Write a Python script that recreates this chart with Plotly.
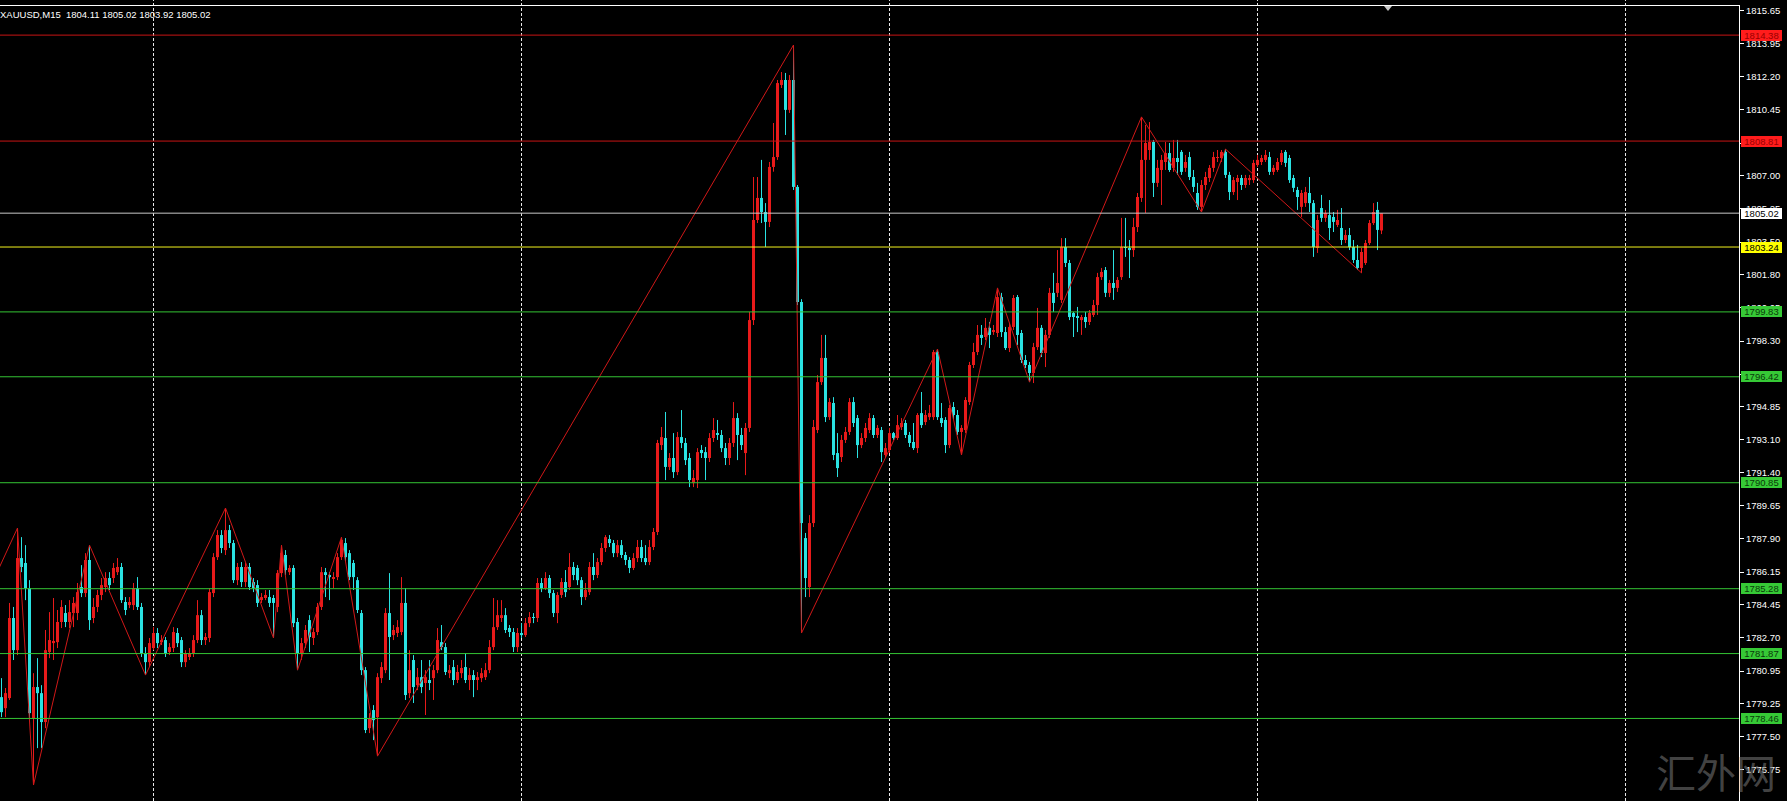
import plotly.graph_objects as go

# XAUUSD M15 candles (index 0 = leftmost bar)
opens = [
    1779.58, 1779.00, 1779.53, 1783.74, 1782.05, 1786.89, 1786.63, 1785.31, 1778.48, 1780.11,
    1779.79, 1778.27, 1781.95, 1782.42, 1782.47, 1783.53, 1784.00, 1783.53, 1784.00, 1784.00,
    1785.37, 1785.05, 1786.79, 1783.74, 1784.32, 1784.95, 1785.37, 1785.84, 1785.84, 1786.15,
    1786.42, 1784.58, 1784.42, 1784.42, 1785.31, 1784.32, 1781.90, 1781.42, 1782.16, 1782.95,
    1782.47, 1782.58, 1781.95, 1782.16, 1782.95, 1782.58, 1781.42, 1781.69, 1781.90, 1782.58,
    1783.89, 1782.58, 1782.69, 1785.05, 1786.94, 1788.10, 1787.31, 1788.36, 1787.68, 1785.73,
    1786.42, 1785.63, 1786.42, 1785.63, 1785.47, 1784.68, 1784.79, 1784.84, 1784.79, 1784.32,
    1786.10, 1787.05, 1786.15, 1786.37, 1783.53, 1781.90, 1782.42, 1783.63, 1782.69, 1783.00,
    1784.32, 1786.15, 1786.00, 1785.84, 1785.89, 1786.94, 1787.68, 1787.15, 1786.63, 1785.73,
    1784.00, 1781.00, 1777.95, 1778.90, 1778.53, 1780.58, 1781.00, 1784.00, 1782.84, 1782.95,
    1783.00, 1784.53, 1779.79, 1781.53, 1780.21, 1780.63, 1780.32, 1780.48, 1780.58, 1781.00,
    1782.47, 1782.21, 1780.84, 1781.16, 1780.48, 1780.84, 1781.16, 1780.48, 1780.74, 1780.48,
    1780.58, 1780.63, 1781.00, 1782.21, 1783.26, 1783.74, 1783.89, 1783.21, 1783.00, 1782.21,
    1782.95, 1782.84, 1783.47, 1783.79, 1783.74, 1785.58, 1785.31, 1785.84, 1785.05, 1784.00,
    1784.95, 1785.63, 1785.37, 1786.42, 1786.37, 1785.73, 1784.84, 1785.10, 1786.42, 1786.00,
    1786.68, 1787.42, 1787.89, 1787.68, 1787.15, 1787.57, 1787.05, 1786.79, 1786.37, 1786.89,
    1787.47, 1786.89, 1786.68, 1787.47, 1788.26, 1792.83, 1793.20, 1791.68, 1792.15, 1791.41,
    1793.25, 1792.94, 1792.15, 1790.83, 1790.99, 1792.57, 1792.46, 1792.15, 1793.20, 1793.46,
    1793.36, 1792.67, 1792.15, 1792.94, 1794.25, 1793.36, 1792.41, 1793.73, 1799.40, 1804.66,
    1805.82, 1805.08, 1804.56, 1807.45, 1807.97, 1811.76, 1812.02, 1810.45, 1812.02, 1806.40,
    1800.35, 1787.94, 1785.37, 1788.73, 1793.62, 1796.14, 1797.41, 1794.30, 1795.04, 1792.41,
    1792.20, 1793.10, 1793.52, 1795.09, 1794.25, 1792.83, 1793.20, 1793.62, 1794.25, 1793.36,
    1793.62, 1792.31, 1792.57, 1793.46, 1793.20, 1793.78, 1793.99, 1793.36, 1792.99, 1792.67,
    1794.51, 1794.04, 1794.30, 1794.30, 1797.72, 1794.25, 1794.15, 1792.83, 1794.83, 1794.41,
    1793.52, 1793.62, 1795.09, 1797.04, 1797.72, 1798.62, 1798.51, 1798.99, 1798.77, 1798.72,
    1800.61, 1798.77, 1797.93, 1799.04, 1800.61, 1798.72, 1797.30, 1797.04, 1796.62, 1797.98,
    1798.99, 1797.67, 1798.62, 1800.83, 1800.83, 1800.46, 1803.24, 1802.40, 1799.77, 1799.61,
    1799.40, 1799.56, 1799.30, 1799.67, 1800.19, 1801.66, 1802.03, 1800.83, 1801.35, 1801.09,
    1801.66, 1803.24, 1803.19, 1803.08, 1804.29, 1805.82, 1807.82, 1808.34, 1808.76, 1806.61,
    1807.29, 1807.71, 1808.18, 1807.40, 1807.92, 1808.24, 1807.40, 1807.97, 1806.92, 1806.08,
    1805.35, 1806.50, 1806.87, 1807.40, 1807.92, 1807.92, 1808.24, 1807.03, 1806.13, 1806.66,
    1806.87, 1806.50, 1806.76, 1806.76, 1807.55, 1807.71, 1807.82, 1807.97, 1807.19, 1807.29,
    1807.71, 1808.24, 1807.92, 1806.87, 1806.24, 1805.35, 1805.55, 1806.08, 1805.55, 1803.19,
    1805.29, 1804.77, 1804.92, 1804.82, 1804.40, 1804.24, 1803.61, 1803.87, 1803.24, 1802.56,
    1802.14, 1802.40, 1803.45, 1804.50, 1805.19, 1804.11,
]
highs = [
    1780.58, 1780.06, 1784.53, 1784.32, 1788.47, 1787.99, 1787.57, 1785.73, 1780.84, 1781.63,
    1780.21, 1783.11, 1784.05, 1784.79, 1784.16, 1784.68, 1784.42, 1784.68, 1784.84, 1785.58,
    1786.52, 1787.15, 1787.57, 1784.79, 1785.21, 1785.84, 1786.15, 1786.15, 1786.63, 1786.89,
    1786.63, 1784.84, 1784.84, 1785.58, 1785.89, 1784.53, 1782.21, 1782.69, 1783.26, 1783.21,
    1782.84, 1782.74, 1782.42, 1783.26, 1783.21, 1782.74, 1782.05, 1782.16, 1782.84, 1784.68,
    1784.16, 1782.95, 1785.31, 1787.15, 1788.36, 1788.36, 1789.52, 1788.63, 1787.84, 1786.63,
    1786.68, 1786.63, 1786.63, 1785.84, 1785.73, 1785.05, 1785.21, 1785.21, 1784.95, 1786.26,
    1787.57, 1787.31, 1786.52, 1786.52, 1783.74, 1782.69, 1783.37, 1783.89, 1783.21, 1784.53,
    1786.42, 1786.37, 1786.15, 1786.15, 1787.15, 1787.99, 1787.94, 1787.31, 1786.79, 1785.89,
    1784.16, 1781.16, 1778.74, 1779.16, 1780.84, 1781.42, 1784.26, 1786.10, 1783.37, 1783.63,
    1785.89, 1785.31, 1782.05, 1781.79, 1781.11, 1781.53, 1781.00, 1781.53, 1781.27, 1783.21,
    1783.37, 1782.42, 1781.27, 1781.53, 1781.27, 1781.53, 1781.90, 1781.11, 1781.00, 1780.90,
    1781.11, 1781.37, 1782.58, 1784.79, 1784.68, 1784.68, 1784.26, 1783.37, 1783.21, 1783.21,
    1783.47, 1783.74, 1784.05, 1784.00, 1785.84, 1785.84, 1786.15, 1786.00, 1785.21, 1785.10,
    1785.84, 1786.26, 1787.15, 1786.68, 1786.52, 1785.89, 1785.58, 1786.68, 1787.15, 1786.89,
    1787.68, 1788.10, 1788.10, 1787.84, 1787.84, 1787.84, 1787.21, 1786.94, 1787.15, 1787.84,
    1787.84, 1787.57, 1787.84, 1788.47, 1793.10, 1793.78, 1794.57, 1792.41, 1793.46, 1793.52,
    1794.67, 1793.20, 1792.41, 1791.52, 1792.67, 1792.83, 1792.73, 1793.46, 1794.25, 1794.15,
    1793.62, 1792.94, 1793.20, 1795.09, 1794.51, 1793.73, 1793.99, 1799.83, 1806.92, 1806.92,
    1807.82, 1805.55, 1807.71, 1809.76, 1812.02, 1812.44, 1812.39, 1812.28, 1813.86, 1806.50,
    1800.50, 1788.21, 1789.15, 1794.15, 1796.51, 1798.62, 1798.62, 1795.30, 1795.35, 1793.46,
    1793.36, 1793.78, 1795.30, 1795.35, 1794.41, 1793.46, 1793.99, 1794.51, 1794.41, 1793.88,
    1793.78, 1792.94, 1793.73, 1793.52, 1794.41, 1794.25, 1794.15, 1793.52, 1793.99, 1794.51,
    1795.62, 1794.67, 1794.94, 1797.83, 1797.88, 1795.04, 1794.30, 1794.94, 1795.09, 1794.67,
    1793.88, 1795.35, 1797.20, 1798.20, 1799.14, 1799.14, 1799.51, 1799.30, 1799.14, 1801.09,
    1800.83, 1799.04, 1799.25, 1800.72, 1800.72, 1798.88, 1797.56, 1797.20, 1798.20, 1800.04,
    1799.14, 1798.88, 1801.09, 1801.88, 1803.08, 1803.71, 1803.71, 1802.56, 1799.83, 1800.09,
    1799.67, 1799.83, 1799.93, 1800.46, 1801.88, 1802.14, 1802.19, 1801.51, 1803.08, 1801.66,
    1804.77, 1804.77, 1803.61, 1804.77, 1806.08, 1810.08, 1809.66, 1809.81, 1808.87, 1807.82,
    1808.08, 1808.76, 1808.71, 1808.87, 1808.87, 1808.34, 1808.08, 1808.24, 1807.29, 1806.61,
    1806.76, 1807.19, 1807.55, 1808.24, 1808.34, 1808.34, 1808.39, 1807.19, 1806.92, 1807.03,
    1807.03, 1807.03, 1807.03, 1807.82, 1808.08, 1808.08, 1808.34, 1808.24, 1807.55, 1807.92,
    1808.34, 1808.34, 1808.08, 1807.03, 1806.40, 1806.24, 1806.40, 1806.92, 1805.71, 1804.92,
    1805.98, 1805.19, 1805.71, 1805.08, 1805.19, 1805.29, 1804.14, 1804.24, 1803.61, 1803.35,
    1803.19, 1803.61, 1804.66, 1805.55, 1805.61, 1805.02,
]
lows = [
    1778.53, 1778.53, 1779.43, 1781.53, 1781.79, 1786.15, 1784.68, 1778.48, 1774.96, 1776.90,
    1776.90, 1777.95, 1781.63, 1781.53, 1782.16, 1783.21, 1783.26, 1783.21, 1783.26, 1783.63,
    1784.84, 1784.84, 1783.11, 1783.47, 1784.05, 1784.68, 1785.10, 1785.21, 1785.58, 1786.00,
    1784.53, 1783.89, 1784.26, 1784.16, 1784.16, 1781.69, 1780.74, 1781.16, 1782.05, 1782.16,
    1782.32, 1781.69, 1781.79, 1781.95, 1782.21, 1781.16, 1781.16, 1781.53, 1781.69, 1782.42,
    1782.32, 1782.32, 1782.47, 1784.84, 1786.79, 1787.15, 1787.05, 1787.42, 1785.58, 1785.47,
    1785.37, 1785.37, 1785.21, 1785.10, 1784.32, 1784.53, 1784.68, 1784.32, 1782.69, 1784.05,
    1785.89, 1786.00, 1786.00, 1783.26, 1781.00, 1781.53, 1782.16, 1781.95, 1782.32, 1782.84,
    1784.16, 1784.84, 1784.68, 1785.31, 1785.73, 1786.79, 1786.68, 1785.73, 1785.21, 1784.00,
    1780.74, 1777.69, 1777.69, 1777.32, 1776.48, 1780.32, 1780.84, 1780.48, 1782.58, 1782.74,
    1782.84, 1779.43, 1779.53, 1779.27, 1779.95, 1779.79, 1778.64, 1779.95, 1779.43, 1780.84,
    1782.05, 1780.74, 1780.58, 1780.21, 1780.32, 1780.58, 1780.32, 1779.95, 1779.58, 1779.95,
    1780.37, 1780.48, 1780.84, 1782.05, 1783.11, 1783.53, 1782.95, 1782.74, 1781.95, 1781.95,
    1782.69, 1782.74, 1783.26, 1783.47, 1783.53, 1785.10, 1785.21, 1784.79, 1783.79, 1783.47,
    1784.79, 1784.84, 1785.21, 1785.73, 1785.47, 1784.42, 1784.68, 1784.95, 1785.73, 1785.84,
    1786.52, 1787.21, 1787.47, 1786.94, 1786.94, 1786.89, 1786.52, 1786.10, 1786.26, 1786.68,
    1786.68, 1786.52, 1786.52, 1787.31, 1788.10, 1792.57, 1790.99, 1791.52, 1791.10, 1791.25,
    1792.67, 1791.78, 1790.62, 1790.62, 1790.57, 1792.15, 1790.99, 1791.94, 1792.99, 1793.10,
    1792.46, 1791.78, 1791.78, 1792.73, 1792.04, 1792.57, 1791.25, 1793.52, 1799.14, 1804.50,
    1804.50, 1803.24, 1804.29, 1807.20, 1807.82, 1811.60, 1809.13, 1810.29, 1806.24, 1800.19,
    1782.95, 1784.84, 1784.84, 1788.52, 1793.46, 1795.99, 1794.04, 1794.15, 1792.04, 1791.15,
    1791.94, 1792.94, 1793.36, 1793.78, 1792.15, 1792.67, 1792.99, 1793.46, 1793.20, 1793.20,
    1791.94, 1792.15, 1792.41, 1793.10, 1793.10, 1793.62, 1793.20, 1792.73, 1792.57, 1792.41,
    1793.73, 1793.88, 1794.15, 1794.15, 1794.15, 1793.78, 1792.41, 1792.67, 1794.15, 1793.36,
    1792.31, 1793.46, 1794.94, 1796.88, 1797.56, 1798.09, 1798.35, 1797.93, 1798.62, 1798.51,
    1798.51, 1797.83, 1797.72, 1798.88, 1798.09, 1797.14, 1796.88, 1796.14, 1796.09, 1797.83,
    1797.46, 1796.93, 1798.46, 1799.83, 1800.61, 1800.30, 1802.19, 1799.40, 1798.51, 1798.77,
    1798.62, 1798.99, 1799.14, 1799.56, 1799.67, 1801.51, 1800.61, 1800.61, 1800.46, 1800.88,
    1801.51, 1802.72, 1801.61, 1802.72, 1804.03, 1805.61, 1805.03, 1807.82, 1805.87, 1806.40,
    1805.45, 1807.29, 1807.19, 1807.19, 1807.03, 1807.03, 1807.19, 1806.76, 1806.13, 1805.19,
    1805.08, 1806.24, 1806.66, 1807.19, 1807.71, 1807.71, 1806.87, 1805.71, 1805.98, 1805.71,
    1806.24, 1806.35, 1806.50, 1806.61, 1807.45, 1807.55, 1807.71, 1807.03, 1807.03, 1807.19,
    1807.55, 1807.45, 1806.61, 1806.13, 1805.19, 1804.82, 1805.35, 1805.08, 1802.72, 1802.93,
    1804.56, 1804.56, 1803.61, 1804.03, 1804.29, 1803.35, 1803.45, 1803.08, 1802.40, 1802.03,
    1801.88, 1802.30, 1803.35, 1804.40, 1803.08, 1803.92,
]
closes = [
    1778.79, 1779.79, 1783.74, 1782.05, 1786.89, 1786.42, 1785.31, 1778.74, 1780.11, 1779.79,
    1778.27, 1782.05, 1782.58, 1782.53, 1783.53, 1784.32, 1783.53, 1784.05, 1784.53, 1785.10,
    1785.05, 1786.79, 1783.63, 1784.32, 1784.95, 1785.47, 1785.84, 1785.47, 1786.37, 1786.42,
    1784.68, 1784.16, 1784.58, 1785.31, 1784.32, 1781.90, 1781.42, 1782.42, 1782.95, 1782.42,
    1782.58, 1781.90, 1782.21, 1783.00, 1782.42, 1781.42, 1781.90, 1781.90, 1782.58, 1783.89,
    1782.58, 1782.74, 1785.10, 1786.94, 1788.10, 1787.42, 1788.36, 1787.68, 1785.73, 1786.42,
    1785.63, 1786.42, 1785.37, 1785.31, 1784.53, 1784.84, 1784.95, 1784.53, 1784.53, 1786.10,
    1787.15, 1786.26, 1786.37, 1783.47, 1781.90, 1782.42, 1783.11, 1782.74, 1783.00, 1784.32,
    1786.15, 1786.00, 1785.89, 1785.89, 1786.94, 1787.84, 1786.94, 1785.89, 1785.89, 1784.16,
    1781.00, 1777.85, 1778.48, 1778.37, 1780.63, 1781.16, 1784.00, 1782.74, 1783.11, 1783.26,
    1784.53, 1779.69, 1781.00, 1780.11, 1780.63, 1780.11, 1780.63, 1780.32, 1781.00, 1782.58,
    1782.21, 1780.90, 1781.00, 1780.48, 1780.90, 1781.11, 1780.48, 1780.74, 1780.48, 1780.63,
    1780.84, 1781.00, 1782.21, 1783.26, 1783.89, 1783.89, 1783.11, 1783.00, 1782.21, 1782.95,
    1782.84, 1783.47, 1783.79, 1783.74, 1785.58, 1785.31, 1785.84, 1785.05, 1784.00, 1784.95,
    1785.63, 1785.10, 1786.42, 1786.00, 1785.73, 1784.84, 1785.21, 1786.42, 1786.00, 1786.68,
    1787.42, 1787.99, 1787.68, 1787.15, 1787.57, 1787.05, 1786.79, 1786.37, 1786.89, 1787.47,
    1786.89, 1786.68, 1787.47, 1788.26, 1792.94, 1793.25, 1791.68, 1792.15, 1791.41, 1793.25,
    1792.94, 1792.04, 1790.99, 1791.10, 1792.46, 1792.41, 1792.15, 1793.20, 1793.62, 1793.36,
    1792.67, 1792.15, 1792.94, 1794.25, 1793.36, 1792.83, 1793.73, 1799.40, 1804.66, 1805.82,
    1805.08, 1804.56, 1807.45, 1807.97, 1811.86, 1812.02, 1810.45, 1812.02, 1806.40, 1800.35,
    1788.73, 1785.84, 1788.73, 1793.78, 1796.14, 1797.41, 1794.30, 1795.09, 1792.31, 1791.62,
    1793.10, 1793.52, 1795.09, 1793.99, 1792.83, 1793.20, 1793.73, 1794.25, 1793.36, 1793.73,
    1792.46, 1792.67, 1793.46, 1793.20, 1793.88, 1793.99, 1793.36, 1792.94, 1792.67, 1794.41,
    1793.88, 1794.41, 1794.51, 1797.72, 1794.30, 1793.99, 1792.83, 1794.78, 1794.41, 1793.52,
    1793.73, 1795.20, 1797.04, 1797.72, 1798.62, 1798.46, 1798.99, 1798.62, 1798.88, 1800.61,
    1798.77, 1797.93, 1799.04, 1800.56, 1798.62, 1797.30, 1797.04, 1796.62, 1797.98, 1798.99,
    1797.67, 1798.62, 1800.83, 1800.30, 1801.35, 1803.24, 1802.40, 1799.56, 1799.56, 1799.51,
    1799.56, 1799.30, 1799.77, 1800.19, 1801.66, 1801.93, 1800.83, 1801.35, 1801.09, 1801.51,
    1803.24, 1803.19, 1803.08, 1804.29, 1805.87, 1807.82, 1808.71, 1808.76, 1806.61, 1807.40,
    1807.82, 1808.18, 1807.29, 1807.92, 1807.71, 1807.19, 1807.71, 1806.92, 1806.40, 1805.35,
    1806.50, 1806.92, 1807.40, 1807.97, 1807.97, 1808.24, 1807.03, 1806.13, 1806.76, 1806.87,
    1806.50, 1806.87, 1806.87, 1807.66, 1807.82, 1807.92, 1808.08, 1807.19, 1807.40, 1807.71,
    1808.18, 1807.66, 1806.76, 1806.35, 1805.87, 1806.08, 1806.13, 1805.55, 1803.24, 1804.66,
    1804.77, 1805.03, 1804.24, 1804.56, 1804.66, 1803.61, 1803.87, 1803.24, 1802.56, 1802.14,
    1802.98, 1803.45, 1804.50, 1805.08, 1804.14, 1805.02,
]

# ZigZag indicator turning points (bar index, price)
zigzag_idx = [-2, 4, 8, 22, 36, 56, 68, 70, 74, 85, 94, 198, 200, 234, 240, 249, 257, 285, 300, 306, 340]
zigzag_val = [1785.73, 1788.47, 1774.96, 1787.57, 1780.74, 1789.52, 1782.69, 1787.57, 1781.00, 1787.99,
              1776.48, 1813.86, 1782.95, 1797.88, 1792.31, 1801.09, 1796.14, 1810.08, 1805.08, 1808.39,
              1801.88]

# horizontal levels
resist_levels = [1814.38, 1808.81]
bid_level = 1805.02
pivot_level = 1803.24
support_levels = [1799.83, 1796.42, 1790.85, 1785.28, 1781.87, 1778.46]

price_ticks = [1815.65, 1813.95, 1812.20, 1810.45, 1808.70, 1807.00, 1805.25, 1803.50, 1801.80, 1800.05,
               1798.30, 1796.55, 1794.85, 1793.10, 1791.40, 1789.65, 1787.90, 1786.15, 1784.45, 1782.70,
               1780.95, 1779.25, 1777.50, 1775.75]
day_breaks = [38, 130, 222, 314, 406]

title_text = "XAUUSD,M15&nbsp; 1804.11 1805.02 1803.92 1805.02"
watermark = "汇外网"

UP = "#e81a1a"
DOWN = "#2ae2e2"
FONT = "Liberation Sans"

idx = list(range(len(closes)))
up = [i for i in idx if closes[i] >= opens[i]]
dn = [i for i in idx if closes[i] < opens[i]]


def wicks(ids, color):
    xs, ys = [], []
    for i in ids:
        xs += [i, i, None]
        ys += [lows[i], highs[i], None]
    return go.Scatter(x=xs, y=ys, mode="lines", line=dict(color=color, width=1), hoverinfo="skip")


def bodies(ids, color):
    return go.Bar(
        x=ids,
        base=[min(opens[i], closes[i]) for i in ids],
        y=[max(abs(closes[i] - opens[i]), 0.05) for i in ids],
        width=0.75,
        marker=dict(color=color, line=dict(width=0)),
        hoverinfo="skip",
    )


fig = go.Figure()
fig.add_trace(wicks(up, UP))
fig.add_trace(wicks(dn, DOWN))
fig.add_trace(bodies(up, UP))
fig.add_trace(bodies(dn, DOWN))
fig.add_trace(go.Scatter(x=zigzag_idx, y=zigzag_val, mode="lines",
                         line=dict(color="#d01818", width=1), hoverinfo="skip"))

shapes = []
for d in day_breaks:
    shapes.append(dict(type="line", xref="x", yref="paper", x0=d, x1=d, y0=0, y1=1.008,
                       line=dict(color="#e8e8e8", width=1, dash="3px,2px"), layer="below"))

level_style = []
for v in resist_levels:
    level_style.append((v, "#c81414", "#ff1c1c", "#9a0000"))
level_style.append((bid_level, "#c8c8c8", "#ffffff", "#000000"))
level_style.append((pivot_level, "#f2f21e", "#ffff00", "#000000"))
for v in support_levels:
    level_style.append((v, "#34c434", "#36c936", "#0a3a0a"))

annotations = []
for v, line_c, box_c, txt_c in level_style:
    shapes.append(dict(type="line", xref="paper", yref="y", x0=0, x1=1, y0=v, y1=v,
                       line=dict(color=line_c, width=1), layer="above"))

# watermark first so the price labels sit on top of it
annotations.append(dict(text=watermark, xref="paper", yref="paper", x=1716 / 1739, y=30 / 795,
                        xanchor="center", yanchor="middle", showarrow=False,
                        font=dict(family="Noto Sans CJK SC", size=40, color="rgba(125,125,125,0.55)")))

for v, line_c, box_c, txt_c in level_style:
    annotations.append(dict(text=f"{v:.2f}", xref="paper", yref="y", x=1, y=v, xanchor="left",
                            yanchor="middle", xshift=2, showarrow=False, width=41, height=11,
                            bgcolor=box_c, borderpad=0, borderwidth=0,
                            font=dict(family=FONT, size=9.5, color=txt_c)))

annotations.append(dict(text=title_text, xref="paper", yref="paper", x=-2 / 1739, y=1 - 9 / 795,
                        xanchor="left", yanchor="middle", showarrow=False,
                        font=dict(family=FONT, size=9.5, color="#ffffff")))

# chart shift marker at the top
shapes.append(dict(type="path", xref="paper", yref="paper",
                   path=f"M {1384 / 1739},{1.0} L {1392 / 1739},{1.0} L {1388 / 1739},{1 - 5 / 795} Z",
                   fillcolor="#c8c8c8", line=dict(width=0)))

fig.update_layout(
    template="none",
    width=1787, height=801, autosize=False,
    margin=dict(l=0, r=48, t=6, b=0, pad=0),
    paper_bgcolor="#000000", plot_bgcolor="#000000",
    showlegend=False, hovermode=False, barmode="overlay",
    shapes=shapes, annotations=annotations,
    xaxis=dict(range=[-0.375, 434.375], side="top", showline=True, linecolor="#ffffff", linewidth=1,
               showgrid=False, zeroline=False, showticklabels=False, ticks="", fixedrange=True,
               automargin=False),
    yaxis=dict(range=[1774.12, 1815.91], side="right", showline=True, linecolor="#ffffff", linewidth=1,
               showgrid=False, zeroline=False, tickvals=price_ticks,
               ticktext=[f"{t:.2f}" for t in price_ticks], ticks="outside", ticklen=4,
               tickcolor="#ffffff", tickfont=dict(family=FONT, size=9.5, color="#ffffff"),
               fixedrange=True, automargin=False),
)

# the page's default body margin would shift the figure by 8px
fig.write_html("out.html", config={"displayModeBar": False},
               post_script="document.body.style.margin='0';document.body.style.overflow='hidden';")
